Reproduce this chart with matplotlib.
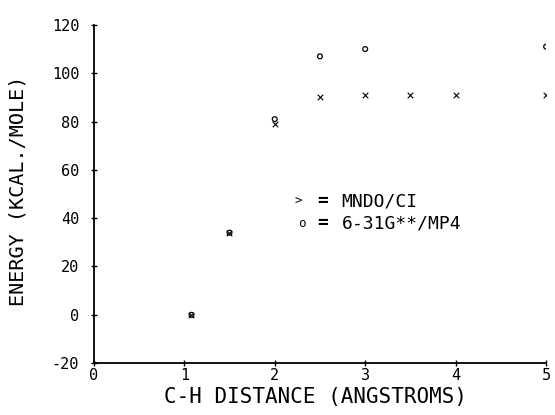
import matplotlib
matplotlib.use("Agg")
import matplotlib.pyplot as plt

# C-H distance (angstroms) and energies (kcal/mole)
mndo_x = [1.08, 1.5, 2.0, 2.5, 3.0, 3.5, 4.0, 5.0]
mndo_y = [0, 34, 79, 90, 91, 91, 91, 91]
mp4_x = [1.08, 1.5, 2.0, 2.5, 3.0, 5.0]
mp4_y = [0, 34, 81, 107, 110, 111]

x_ticks = [0, 1, 2, 3, 4, 5]
y_ticks = [-20, 0, 20, 40, 60, 80, 100, 120]

plt.rcParams['font.family'] = ['DejaVu Sans Mono']
plt.rcParams['axes.unicode_minus'] = False

fig = plt.figure(figsize=(5.55, 4.15), dpi=100)
ax = fig.add_axes([0.169, 0.125, 0.815, 0.815])

ax.scatter(mndo_x, mndo_y, marker='x', s=16, c='black', linewidths=0.8)
ax.scatter(mp4_x, mp4_y, marker='o', s=12, facecolors='none', edgecolors='black', linewidths=0.9)

ax.set_xlim(0, 5)
ax.set_ylim(-20, 120)
ax.set_xticks(x_ticks)
ax.set_yticks(y_ticks)
ax.tick_params(direction='inout', length=5, width=1, labelsize=11)
ax.tick_params(axis='x', pad=1)
ax.tick_params(axis='y', pad=8)
for s in ['top', 'right']:
    ax.spines[s].set_visible(False)
for s in ['left', 'bottom']:
    ax.spines[s].set_linewidth(1.3)

ax.set_xlabel('C-H DISTANCE (ANGSTROMS)', fontsize=15)
ax.set_ylabel('ENERGY (KCAL./MOLE)', fontsize=14.5)
ax.xaxis.set_label_coords(0.49, -0.10)
ax.yaxis.set_label_coords(-0.168, 0.51)
ax.xaxis.label.set_va('center')
ax.yaxis.label.set_va('center')

# hand-drawn key inside the plot
ax.text(2.26, 47, '>', fontsize=9, va='center', ha='center')
ax.text(2.30, 38, 'o', fontsize=9, va='center', ha='center')
ax.text(2.53, 47, '=', fontsize=13, va='center', ha='center', fontweight='bold')
ax.text(2.53, 38, '=', fontsize=13, va='center', ha='center', fontweight='bold')
ax.text(2.74, 47, 'MNDO/CI', fontsize=13, va='center')
ax.text(2.74, 38, '6-31G**/MP4', fontsize=13, va='center')

fig.savefig('out.png', dpi=100)
